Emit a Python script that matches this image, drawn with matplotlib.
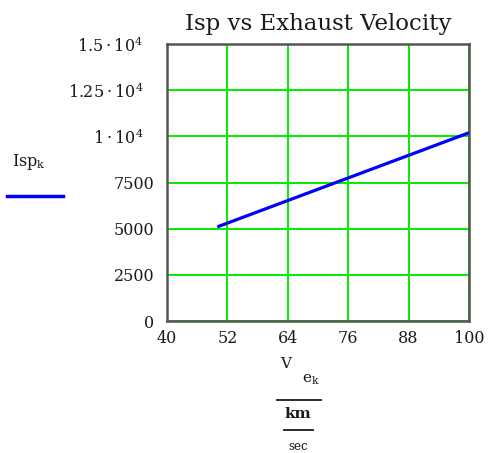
import matplotlib
matplotlib.use("Agg")
import matplotlib.pyplot as plt
from matplotlib.ticker import FixedLocator, FixedFormatter

plt.rcParams["font.family"] = ["DejaVu Serif"]
plt.rcParams["mathtext.fontset"] = "custom"
plt.rcParams["mathtext.rm"] = "DejaVu Serif"
plt.rcParams["mathtext.it"] = "DejaVu Serif"

# Exhaust velocity (km/s) and specific impulse (s)
ve_kms = [50, 100]
isp_s = [5097, 10194]

x_ticks = [40, 52, 64, 76, 88, 100]
x_labels = ["40", "52", "64", "76", "88", "100"]
y_ticks = [0, 2500, 5000, 7500, 10000, 12500, 15000]
y_labels = ["0", "2500", "5000", "7500",
            "1\u2009\u00b7\u200910$^{4}$   ",
            "1.25\u2009\u00b7\u200910$^{4}$   ",
            "1.5\u2009\u00b7\u200910$^{4}$   "]

TXT = "#1a1a1a"

fig = plt.figure(figsize=(4.89, 4.53), dpi=100)
ax = fig.add_axes([167 / 489, 1 - 321 / 453, (469 - 167) / 489, (321 - 44) / 453])

ax.plot(ve_kms, isp_s, color="#0000ff", lw=2.3, solid_capstyle="butt", zorder=3)

ax.set_xlim(40, 100)
ax.set_ylim(0, 15000)
ax.xaxis.set_major_locator(FixedLocator(x_ticks))
ax.xaxis.set_major_formatter(FixedFormatter(x_labels))
ax.yaxis.set_major_locator(FixedLocator(y_ticks))
ax.yaxis.set_major_formatter(FixedFormatter(y_labels))
ax.tick_params(length=0, labelsize=11.5, colors=TXT)
ax.tick_params(axis="x", pad=6.5)
ax.tick_params(axis="y", pad=9)
ax.grid(True, color="#00ee00", lw=1.4)
for s in ax.spines.values():
    s.set_color("#555555")
    s.set_linewidth(1.8)

ax.set_title("Isp vs Exhaust Velocity", fontsize=16.5, color=TXT, pad=10)

# legend entry on the left
fig.text(12 / 489, 1 - 162 / 453, r"$\mathregular{Isp_{k}}$", fontsize=11.5,
         color=TXT, ha="left", va="center")
fig.add_artist(plt.Line2D([7 / 489, 63 / 489], [1 - 196 / 453, 1 - 196 / 453],
                          color="#0000ff", lw=2.5, transform=fig.transFigure))

# x-axis label as a stacked fraction
fig.text(286 / 489, 1 - 364 / 453, "V", fontsize=11,
         color=TXT, ha="center", va="center")
fig.text(302 / 489, 1 - 380 / 453, r"$\mathregular{e_{k}}$", fontsize=11,
         color=TXT, ha="left", va="center")
fig.add_artist(plt.Line2D([277 / 489, 321 / 489], [1 - 400 / 453, 1 - 400 / 453],
                          color=TXT, lw=1.3, transform=fig.transFigure))
fig.text(298 / 489, 1 - 414 / 453, "km", fontsize=11, fontweight="bold",
         color=TXT, ha="center", va="center")
fig.add_artist(plt.Line2D([284 / 489, 313 / 489], [1 - 430 / 453, 1 - 430 / 453],
                          color=TXT, lw=1.3, transform=fig.transFigure))
fig.text(298 / 489, 1 - 446 / 453, "sec", fontsize=8.5,
         color=TXT, ha="center", va="center")

fig.savefig("out.png", dpi=100)
